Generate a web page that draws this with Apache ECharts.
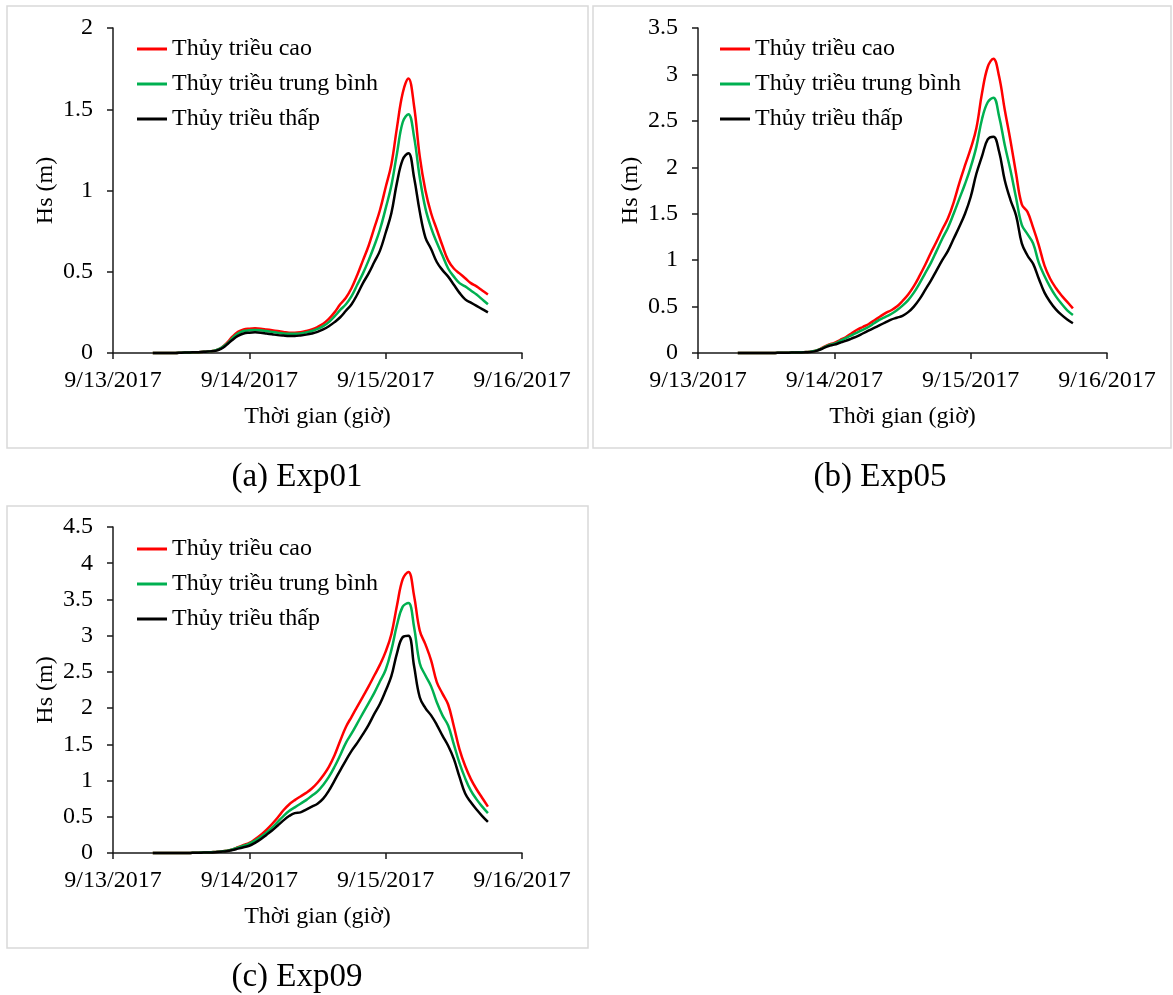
<!DOCTYPE html>
<html>
<head>
<meta charset="utf-8">
<script src="https://cdn.jsdelivr.net/npm/echarts@6/dist/echarts.min.js"></script>
<style>
html,body{margin:0;padding:0;background:#fff;}
#c{width:1173px;height:995px;}
</style>
</head>
<body>
<div id="c"></div>
<script>
// hours since 9/13/2017 00:00
const hours = [7,8,9,10,11,12,13,14,15,16,17,18,19,20,21,22,23,24,25,26,27,28,29,30,31,32,33,34,35,36,37,38,39,40,41,42,43,44,45,46,47,48,49,50,51,52,53,54,55,56,57,58,59,60,61,62,63,64,65,66];
const xTickLabels = ['9/13/2017','9/14/2017','9/15/2017','9/16/2017'];
const seriesNames = ['Thủy triều cao','Thủy triều trung bình','Thủy triều thấp'];
const captions = ['(a) Exp01','(b) Exp05','(c) Exp09'];

// Exp01
const exp01High = [0,0,0,0,0,0.002,0.003,0.004,
  0.005,0.007,0.01,0.015,0.03,0.06,0.10,0.13,0.145,0.15,
  0.152,0.15,0.145,0.14,0.135,0.13,0.125,0.125,0.128,0.135,
  0.145,0.16,0.18,0.21,0.25,0.30,0.34,0.40,0.48,0.57,
  0.66,0.77,0.88,1.02,1.16,1.39,1.60,1.69,1.52,1.21,
  1.00,0.86,0.76,0.66,0.57,0.52,0.49,0.46,0.43,0.41,0.385,0.36];
const exp01Mid = [0,0,0,0,0,0.002,0.003,0.004,
  0.005,0.007,0.01,0.015,0.03,0.055,0.09,0.12,0.135,0.14,
  0.142,0.14,0.135,0.13,0.125,0.12,0.118,0.118,0.12,0.127,
  0.135,0.148,0.165,0.19,0.225,0.265,0.30,0.35,0.42,0.49,
  0.57,0.66,0.76,0.89,1.03,1.23,1.42,1.47,1.33,1.08,
  0.89,0.77,0.68,0.60,0.52,0.47,0.43,0.41,0.385,0.36,0.33,0.30];
const exp01Low = [0,0,0,0,0,0.002,0.003,0.004,
  0.005,0.007,0.01,0.013,0.025,0.05,0.08,0.105,0.12,0.125,
  0.127,0.125,0.12,0.115,0.11,0.107,0.105,0.105,0.108,0.113,
  0.12,0.13,0.145,0.165,0.19,0.22,0.26,0.30,0.36,0.43,
  0.49,0.56,0.63,0.74,0.86,1.05,1.19,1.23,1.08,0.87,
  0.71,0.64,0.56,0.51,0.47,0.42,0.37,0.33,0.31,0.29,0.27,0.25];

// Exp05
const exp05High = [0,0,0,0,0,0,0,0.002,
  0.003,0.004,0.005,0.007,0.01,0.015,0.03,0.06,0.09,0.11,
  0.14,0.17,0.21,0.25,0.28,0.31,0.35,0.39,0.43,0.46,
  0.50,0.56,0.63,0.72,0.83,0.95,1.08,1.20,1.33,1.45,
  1.62,1.83,2.02,2.20,2.42,2.80,3.08,3.17,2.98,2.62,
  2.29,1.93,1.60,1.52,1.35,1.16,0.94,0.80,0.70,0.62,0.55,0.48];
const exp05Mid = [0,0,0,0,0,0,0,0.002,
  0.003,0.004,0.005,0.007,0.01,0.015,0.03,0.055,0.085,0.10,
  0.13,0.16,0.19,0.22,0.25,0.28,0.32,0.36,0.39,0.42,
  0.46,0.51,0.57,0.65,0.75,0.86,0.97,1.10,1.23,1.35,
  1.50,1.66,1.82,2.00,2.22,2.52,2.70,2.75,2.55,2.24,
  1.97,1.67,1.38,1.28,1.18,0.97,0.83,0.71,0.61,0.53,0.46,0.41];
const exp05Low = [0,0,0,0,0,0,0,0.002,
  0.003,0.004,0.005,0.006,0.008,0.012,0.025,0.05,0.075,0.09,
  0.11,0.13,0.155,0.18,0.21,0.24,0.27,0.30,0.33,0.36,
  0.38,0.40,0.44,0.50,0.58,0.68,0.78,0.89,1.00,1.10,
  1.23,1.36,1.50,1.68,1.93,2.12,2.30,2.33,2.17,1.86,
  1.65,1.48,1.18,1.05,0.96,0.80,0.65,0.55,0.47,0.41,0.36,0.32];

// Exp09
const exp09High = [0,0,0,0,0,0,0,0.003,
  0.005,0.007,0.01,0.015,0.02,0.03,0.05,0.08,0.11,0.14,
  0.19,0.25,0.32,0.40,0.49,0.59,0.67,0.73,0.78,0.83,
  0.89,0.97,1.07,1.19,1.35,1.55,1.74,1.88,2.02,2.16,
  2.30,2.45,2.60,2.78,3.02,3.42,3.78,3.88,3.55,3.07,
  2.88,2.66,2.36,2.20,2.05,1.75,1.43,1.20,1.02,0.88,0.76,0.64];
const exp09Mid = [0,0,0,0,0,0,0,0.003,
  0.005,0.007,0.01,0.015,0.02,0.03,0.05,0.075,0.10,0.13,
  0.17,0.22,0.28,0.35,0.43,0.51,0.58,0.63,0.68,0.73,
  0.79,0.85,0.94,1.05,1.19,1.35,1.52,1.65,1.79,1.93,
  2.07,2.21,2.37,2.53,2.80,3.15,3.40,3.45,3.12,2.62,
  2.45,2.30,2.08,1.90,1.76,1.50,1.24,1.03,0.86,0.74,0.64,0.55];
const exp09Low = [0,0,0,0,0,0,0,0.002,
  0.004,0.006,0.008,0.012,0.018,0.025,0.04,0.06,0.08,0.10,
  0.14,0.19,0.25,0.31,0.38,0.45,0.51,0.55,0.56,0.60,
  0.64,0.68,0.75,0.86,1.00,1.14,1.28,1.41,1.52,1.64,
  1.77,1.92,2.06,2.24,2.44,2.76,2.98,3.00,2.58,2.15,
  2.00,1.90,1.77,1.62,1.48,1.30,1.05,0.82,0.70,0.60,0.51,0.43];

const yMax = [2, 3.5, 4.5];
const colors = ['#FF0000', '#00B050', '#000000'];
const FONT = '"Liberation Serif","Times New Roman",serif';

const panels = [
  {data:[exp01High, exp01Mid, exp01Low]},
  {data:[exp05High, exp05Mid, exp05Low]},
  {data:[exp09High, exp09Mid, exp09Low]}
];
const grids = [
  {left:113, top:28, width:409, height:325},
  {left:698, top:28, width:409, height:325},
  {left:113, top:527, width:409, height:326}
];
const boxes = [
  {x:7, y:6, w:581, h:442},
  {x:593, y:6, w:578, h:442},
  {x:7, y:506, w:581, h:442}
];
const captionPos = [[297, 477], [880, 477], [297, 977]];
const legendPos = [[132, 32], [715, 32], [132, 532]];

const axisLine = {show:true, lineStyle:{color:'#1a1a1a', width:1.5}};
const axisTick = {show:true, inside:false, length:6, lineStyle:{color:'#1a1a1a', width:1.5}};

const option = {
  backgroundColor:'#fff',
  animation:false,
  grid: grids.map(g => Object.assign({containLabel:false}, g)),
  xAxis: grids.map((g,i) => ({
    gridIndex:i, type:'value', min:0, max:72, interval:24,
    axisLine, axisTick, splitLine:{show:false},
    axisLabel:{margin:16, fontFamily:FONT, fontSize:24, color:'#000',
      formatter: v => xTickLabels[Math.round(v/24)]},
    name:'Thời gian (giờ)', nameLocation:'middle', nameGap:52,
    nameTextStyle:{fontFamily:FONT, fontSize:24, color:'#000'}
  })),
  yAxis: grids.map((g,i) => ({
    gridIndex:i, type:'value', min:0, max:yMax[i], interval:0.5,
    axisLine, axisTick, splitLine:{show:false},
    axisLabel:{margin:20, fontFamily:FONT, fontSize:24, color:'#000'},
    name:'Hs (m)', nameLocation:'middle', nameGap:55,
    nameTextStyle:{fontFamily:FONT, fontSize:24, color:'#000'}
  })),
  legend: legendPos.map(p => ({
    left:p[0], top:p[1], orient:'vertical', icon:'rect',
    itemWidth:30, itemHeight:3, itemGap:11,
    textStyle:{fontFamily:FONT, fontSize:24, color:'#000', lineHeight:24},
    data: seriesNames
  })),
  series: [],
  graphic: []
};

panels.forEach((p, i) => {
  p.data.forEach((vals, k) => {
    option.series.push({
      name: seriesNames[k], type:'line', xAxisIndex:i, yAxisIndex:i,
      data: hours.map((h, j) => [h, vals[j]]),
      smooth:0.4, showSymbol:false, symbol:'none',
      lineStyle:{color:colors[k], width:2.5}, itemStyle:{color:colors[k]},
      clip:false
    });
  });
});

boxes.forEach(b => {
  option.graphic.push({type:'rect', silent:true, z:-1,
    shape:{x:b.x, y:b.y, width:b.w, height:b.h},
    style:{fill:'none', stroke:'#D9D9D9', lineWidth:1.5}});
});
captions.forEach((c, i) => {
  option.graphic.push({type:'text', silent:true,
    x:captionPos[i][0], y:captionPos[i][1],
    style:{text:c, fontFamily:FONT, fontSize:33, fill:'#000', align:'center', verticalAlign:'middle'}});
});

const chart = echarts.init(document.getElementById('c'), null, {renderer:'canvas'});
chart.setOption(option);
</script>
</body>
</html>
